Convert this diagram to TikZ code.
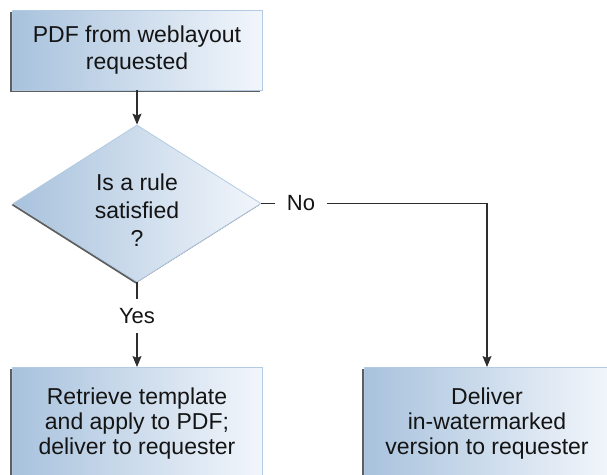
\documentclass[tikz,border=0pt]{standalone}
\usepackage{fontspec}
\setmainfont{Liberation Sans}
\usetikzlibrary{shapes.geometric,shadows,arrows.meta}
\definecolor{boxL}{HTML}{A8C2DD}
\definecolor{boxR}{HTML}{F2F6FB}
\definecolor{boxEdge}{HTML}{B3CBE2}
\definecolor{shad}{HTML}{5E5E5E}
\definecolor{txt}{HTML}{141414}
\definecolor{lineC}{HTML}{2E2E2E}
\begin{document}
\begin{tikzpicture}[x=1pt,y=-1pt,
  shaded/.style={draw=boxEdge, line width=0.8pt, left color=boxL, right color=boxR,
    general shadow={fill=shad, shadow xshift=-1.6pt, shadow yshift=-1.6pt}},
  box/.style={shaded, rectangle, inner sep=0pt, align=center, text=txt},
  dia/.style={shaded, diamond, inner sep=0pt, shape aspect=1.58,
    minimum width=248pt, minimum height=157pt},
  lbl/.style={text=txt, font=\fontsize{22}{26}\selectfont, inner ysep=0pt},
  ln/.style={draw=lineC, line width=1.2pt},
  arr/.style={ln, -{Stealth[length=11pt,width=9pt,inset=2pt]}}
]
\useasboundingbox (0,0) rectangle (607,474);
\begin{scope}
\clip (0,0) rectangle (607,474);
% nodes
\node[box, minimum width=250pt, minimum height=80pt,
  font=\fontsize{23}{27}\selectfont] (req) at (137,50) {PDF from weblayout\\requested};
\node[dia] (rule) at (137,203.5) {};
\node[text=txt, align=center, font=\fontsize{23}{28}\selectfont, inner sep=0pt]
  (ruletxt) at (137,210) {Is a rule\\satisfied\\?};
\node[lbl, inner xsep=12pt] (noL) at (301,203.5) {No};
\node[lbl, inner ysep=9.5pt, inner xsep=0pt] (yesL) at (137,316) {Yes};
\node[box, anchor=north, minimum width=250pt, minimum height=112pt,
  font=\fontsize{23}{25}\selectfont] (retrieve) at (137,367)
  {Retrieve template\\and apply to PDF;\\deliver to requester};
\node[box, anchor=north, minimum width=246pt, minimum height=112pt,
  font=\fontsize{23}{25}\selectfont] (deliver) at (487,367)
  {Deliver\\in-watermarked\\version to requester};
% connectors
\draw[arr] (req.south) -- (rule.north);
\draw[ln] (rule.east) -- (noL.west);
\draw[arr] (noL.east) -| (deliver.north);
\draw[ln] (rule.south) -- (yesL.north);
\draw[arr] (yesL.south) -- (retrieve.north);
\end{scope}
\end{tikzpicture}
\end{document}
